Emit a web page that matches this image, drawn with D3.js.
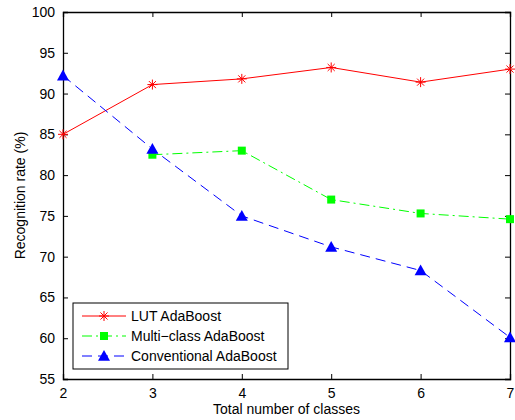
<html>
<head>
<script src="https://cdn.jsdelivr.net/npm/d3@7"></script>
<style>
  body { margin: 0; background: #fff; font-family: "Liberation Sans", Arial, sans-serif; }
  .axis text { font-size: 14px; fill: #000; font-family: "Liberation Sans", Arial, sans-serif; }
  .axis path, .axis line { stroke: #000; }
</style>
</head>
<body>
<script>
var classes = [2, 3, 4, 5, 6, 7];
var lutAda = [85.0, 91.1, 91.8, 93.2, 91.4, 93.0];
var multiClasses = [3, 4, 5, 6, 7];
var multiAda = [82.5, 83.0, 77.0, 75.3, 74.6];
var convAda = [92.2, 83.2, 75.0, 71.2, 68.3, 60.1];
var yTicks = [55, 60, 65, 70, 75, 80, 85, 90, 95, 100];

var width = 515, height = 420;
var margin = {left: 63, right: 5, top: 12, bottom: 41};

var svg = d3.select("body").append("svg")
    .attr("width", width)
    .attr("height", height);

var x = d3.scaleLinear().domain([2, 7]).range([margin.left, width - margin.right]);
var y = d3.scaleLinear().domain([55, 100]).range([height - margin.bottom, margin.top]);

// ticks on all four sides, pointing inward
svg.append("g").attr("class", "axis")
    .attr("transform", "translate(0," + y(55) + ")")
    .call(d3.axisBottom(x).tickValues(classes).tickSize(-5).tickPadding(9).tickFormat(d3.format("d")));
svg.append("g").attr("class", "axis")
    .attr("transform", "translate(0," + y(100) + ")")
    .call(d3.axisTop(x).tickValues(classes).tickSize(-5).tickFormat(""));
svg.append("g").attr("class", "axis")
    .attr("transform", "translate(" + x(2) + ",0)")
    .call(d3.axisLeft(y).tickValues(yTicks).tickSize(-5).tickPadding(8));
svg.append("g").attr("class", "axis")
    .attr("transform", "translate(" + x(7) + ",0)")
    .call(d3.axisRight(y).tickValues(yTicks).tickSize(-5).tickFormat(""));

svg.selectAll(".axis .domain").attr("stroke-width", 1.3);

svg.append("text")
    .attr("x", (x(2) + x(7)) / 2)
    .attr("y", 414)
    .attr("text-anchor", "middle")
    .style("font-size", "14px")
    .text("Total number of classes");

svg.append("text")
    .attr("transform", "translate(25," + ((y(55) + y(100)) / 2) + ") rotate(-90)")
    .attr("text-anchor", "middle")
    .style("font-size", "14px")
    .text("Recognition rate (%)");

var line = d3.line().x(function(d) { return x(d[0]); }).y(function(d) { return y(d[1]); });

var lutPts = d3.zip(classes, lutAda);
var multiPts = d3.zip(multiClasses, multiAda);
var convPts = d3.zip(classes, convAda);

svg.append("path").datum(lutPts).attr("d", line)
    .attr("fill", "none").attr("stroke", "#ff0000").attr("stroke-width", 1);
svg.append("path").datum(multiPts).attr("d", line)
    .attr("fill", "none").attr("stroke", "#00ff00").attr("stroke-width", 1)
    .attr("stroke-dasharray", "10,4,2,4");
svg.append("path").datum(convPts).attr("d", line)
    .attr("fill", "none").attr("stroke", "#0000ff").attr("stroke-width", 1)
    .attr("stroke-dasharray", "10,6");

function star(g, cx, cy, r) {
    var s = "";
    [0, 45, 90, 135].forEach(function(a) {
        var rad = a * Math.PI / 180;
        var dx = r * Math.cos(rad), dy = r * Math.sin(rad);
        s += "M" + (cx - dx) + "," + (cy - dy) + "L" + (cx + dx) + "," + (cy + dy);
    });
    g.append("path").attr("d", s).attr("stroke", "#ff0000").attr("stroke-width", 1).attr("fill", "none");
}
function square(g, cx, cy, r, col) {
    g.append("rect").attr("x", cx - r).attr("y", cy - r).attr("width", 2 * r).attr("height", 2 * r).attr("fill", col);
}
function triangle(g, cx, cy, r, col) {
    g.append("path").attr("d", "M" + cx + "," + (cy - r) + "L" + (cx + r) + "," + (cy + r * 0.8) + "L" + (cx - r) + "," + (cy + r * 0.8) + "Z")
        .attr("fill", col);
}

var marks = svg.append("g");
lutPts.forEach(function(p) { star(marks, x(p[0]), y(p[1]), 5); });
multiPts.forEach(function(p) { square(marks, x(p[0]), y(p[1]), 4, "#00ff00"); });
convPts.forEach(function(p) { triangle(marks, x(p[0]), y(p[1]), 6, "#0000ff"); });

// legend
var legend = svg.append("g");
legend.append("rect").attr("x", 73).attr("y", 303).attr("width", 215).attr("height", 66)
    .attr("fill", "#fff").attr("stroke", "#000").attr("stroke-width", 1);
var items = [
    {name: "LUT AdaBoost", col: "#ff0000", dash: null, mark: "star"},
    {name: "Multi\u2212class AdaBoost", col: "#00ff00", dash: "10,4,2,4", mark: "square"},
    {name: "Conventional AdaBoost", col: "#0000ff", dash: "10,6", mark: "tri"}
];
items.forEach(function(it, i) {
    var ly = 316 + i * 20;
    legend.append("line").attr("x1", 82).attr("x2", 126).attr("y1", ly).attr("y2", ly)
        .attr("stroke", it.col).attr("stroke-width", 1).attr("stroke-dasharray", it.dash);
    if (it.mark == "star") star(legend, 104, ly, 5);
    else if (it.mark == "square") square(legend, 104, ly, 4, it.col);
    else triangle(legend, 104, ly, 6, it.col);
    legend.append("text").attr("x", 131).attr("y", ly + 5)
        .style("font-size", "14px").text(it.name);
});
</script>
</body>
</html>
